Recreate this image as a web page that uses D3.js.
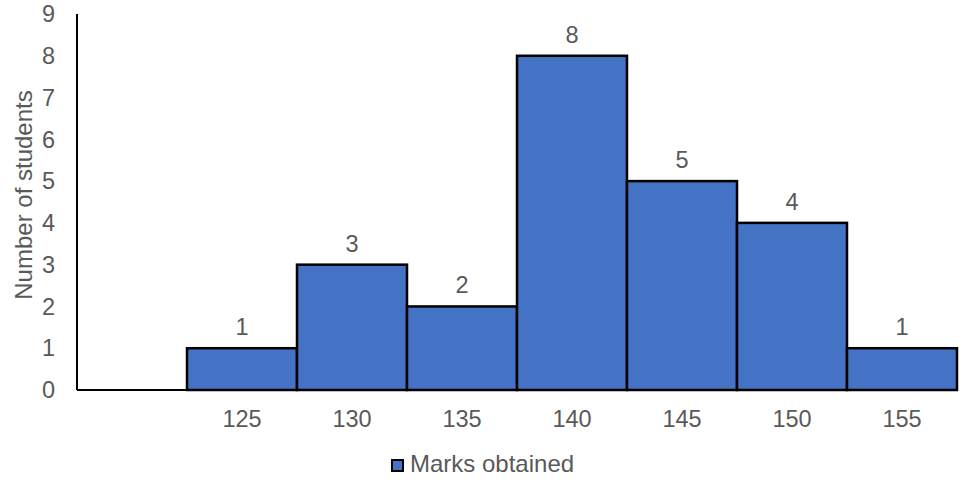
<!DOCTYPE html>
<meta charset="utf-8">
<script src="https://d3js.org/d3.v7.min.js"></script>
<style>
body { margin: 0; background: white; }
text { font-family: "Liberation Sans", Arial, sans-serif; fill: #595959; }
</style>
<div id="chart"></div>
<script>
// marks bins (first slot is empty in the original)
var categories = ["", "125", "130", "135", "140", "145", "150", "155"];
var counts = [null, 1, 3, 2, 8, 5, 4, 1];
var yTicks = [0, 1, 2, 3, 4, 5, 6, 7, 8, 9];
var seriesName = "Marks obtained";
var yTitle = "Number of students";

var width = 967, height = 483;
var margin = {top: 14, right: 10, bottom: 93, left: 77};
var fs = "23.5px";

var svg = d3.select("#chart").append("svg")
    .attr("width", width)
    .attr("height", height);

var x = d3.scaleBand()
    .domain(categories)
    .range([margin.left, 957])
    .padding(0);

var y = d3.scaleLinear()
    .domain([0, 9])
    .range([390, margin.top]);

// y tick labels
svg.append("g")
  .selectAll("text")
  .data(yTicks)
  .enter().append("text")
    .attr("x", 55)
    .attr("y", d => y(d))
    .attr("dy", "0.35em")
    .attr("text-anchor", "end")
    .style("font-size", fs)
    .text(d => d);

// bars
var bars = categories.map((c, i) => ({cat: c, v: counts[i]})).filter(d => d.v != null);

svg.append("g")
  .selectAll("rect")
  .data(bars)
  .enter().append("rect")
    .attr("x", d => x(d.cat))
    .attr("y", d => y(d.v))
    .attr("width", x.bandwidth())
    .attr("height", d => y(0) - y(d.v))
    .attr("fill", "#4472c4")
    .attr("stroke", "black")
    .attr("stroke-width", 2.5);

// value labels
svg.append("g")
  .selectAll("text")
  .data(bars)
  .enter().append("text")
    .attr("x", d => x(d.cat) + x.bandwidth() / 2)
    .attr("y", d => y(d.v) - 13)
    .attr("text-anchor", "middle")
    .style("font-size", fs)
    .text(d => d.v);

// axes lines
svg.append("line")
    .attr("x1", margin.left).attr("x2", margin.left)
    .attr("y1", y(9)).attr("y2", y(0))
    .attr("stroke", "black").attr("stroke-width", 2);
svg.append("line")
    .attr("x1", margin.left).attr("x2", 957)
    .attr("y1", y(0)).attr("y2", y(0))
    .attr("stroke", "black").attr("stroke-width", 2);

// x tick labels
svg.append("g")
  .selectAll("text")
  .data(categories.filter(c => c !== ""))
  .enter().append("text")
    .attr("x", d => x(d) + x.bandwidth() / 2)
    .attr("y", 427)
    .attr("text-anchor", "middle")
    .style("font-size", fs)
    .text(d => d);

// y axis title
svg.append("text")
    .attr("transform", "translate(32,195) rotate(-90)")
    .attr("text-anchor", "middle")
    .style("font-size", "24px")
    .text(yTitle);

// legend
var leg = svg.append("g").attr("transform", "translate(392,460)");
leg.append("rect")
    .attr("width", 11).attr("height", 11)
    .attr("fill", "#4472c4")
    .attr("stroke", "black").attr("stroke-width", 2);
leg.append("text")
    .attr("x", 18).attr("y", 12)
    .style("font-size", "24px")
    .text(seriesName);
</script>
